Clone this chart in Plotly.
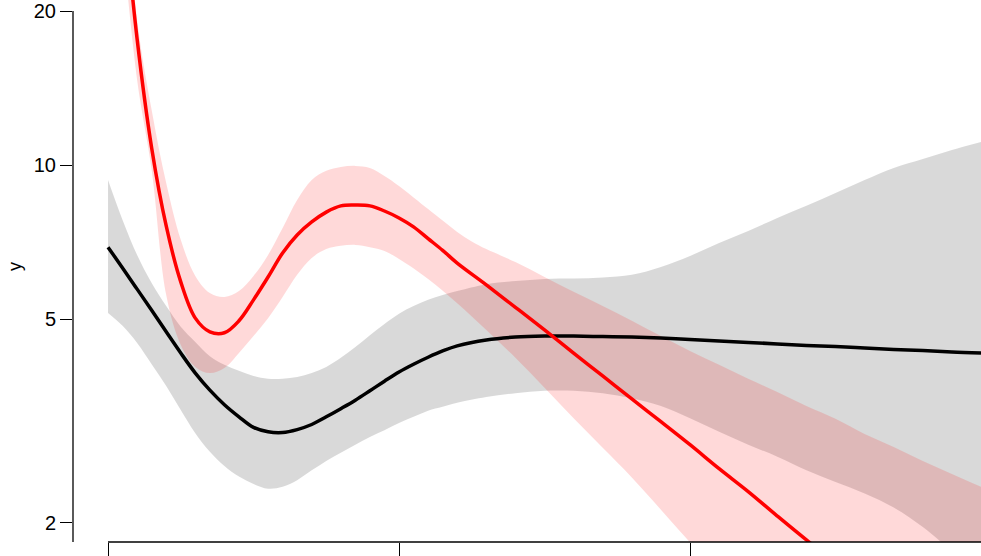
import plotly.graph_objects as go

# ---- data ----
# grey series (black line + grey band)
x_grey = [0.0, 0.05, 0.1, 0.15, 0.2, 0.25, 0.3, 0.35, 0.4, 0.45, 0.5, 0.55, 0.6, 0.65, 0.7, 0.75,
          0.8, 0.85, 0.9, 0.95, 1.0, 1.05, 1.1, 1.15, 1.2, 1.3, 1.4, 1.5, 1.6, 1.7, 1.8, 1.9,
          2.0, 2.1, 2.2, 2.3, 2.4, 2.5, 2.6, 2.7, 2.8, 2.9, 3.0]
black_fit = [6.91, 6.29, 5.72, 5.20, 4.72, 4.29, 3.92, 3.63, 3.40, 3.22, 3.07, 3.01, 3.00, 3.04,
             3.11, 3.22, 3.34, 3.47, 3.62, 3.78, 3.94, 4.08, 4.21, 4.33, 4.43, 4.55, 4.61, 4.63,
             4.63, 4.62, 4.61, 4.59, 4.56, 4.53, 4.50, 4.47, 4.44, 4.42, 4.39, 4.36, 4.34, 4.31,
             4.29]
grey_upper = [9.35, 7.81, 6.67, 5.88, 5.30, 4.83, 4.51, 4.23, 4.07, 3.96, 3.87, 3.82, 3.82, 3.85,
              3.92, 4.03, 4.20, 4.41, 4.65, 4.89, 5.12, 5.30, 5.45, 5.57, 5.67, 5.85, 5.93, 5.99,
              6.00, 6.03, 6.10, 6.32, 6.64, 7.04, 7.43, 7.88, 8.32, 8.82, 9.35, 9.87, 10.27,
              10.70, 11.09]
grey_lower = [5.14, 4.85, 4.49, 4.08, 3.70, 3.32, 2.99, 2.75, 2.58, 2.46, 2.38, 2.33, 2.35, 2.42,
              2.53, 2.64, 2.74, 2.84, 2.94, 3.03, 3.13, 3.22, 3.31, 3.37, 3.43, 3.52, 3.58, 3.62,
              3.62, 3.58, 3.50, 3.38, 3.20, 3.01, 2.84, 2.69, 2.53, 2.40, 2.28, 2.14, 1.96, 1.76,
              1.60]

# red series (red line + pink band)
x_red = [0.05, 0.1, 0.15, 0.2, 0.25, 0.3, 0.35, 0.4, 0.45, 0.5, 0.55, 0.6, 0.65, 0.7, 0.75, 0.8,
         0.85, 0.9, 0.95, 1.0, 1.05, 1.1, 1.15, 1.2, 1.3, 1.4, 1.5, 1.6, 1.7, 1.8, 1.9, 2.0,
         2.1, 2.2, 2.3, 2.4, 2.5]
red_fit = [34.0, 17.63, 10.80, 7.60, 5.91, 5.02, 4.72, 4.70, 4.96, 5.45, 6.04, 6.73, 7.30, 7.74,
           8.09, 8.32, 8.35, 8.32, 8.13, 7.88, 7.57, 7.18, 6.81, 6.43, 5.83, 5.27, 4.76, 4.29,
           3.87, 3.49, 3.15, 2.84, 2.55, 2.30, 2.06, 1.85, 1.67]

x_pink = [0.05, 0.1, 0.15, 0.2, 0.25, 0.3, 0.35, 0.4, 0.45, 0.5, 0.55, 0.6, 0.65, 0.7, 0.75, 0.8,
          0.85, 0.9, 0.95, 1.0, 1.1, 1.15, 1.2, 1.25, 1.3, 1.4, 1.5, 1.6, 1.7, 1.8, 1.9, 2.0,
          2.1, 2.2, 2.3, 2.4, 2.5, 2.6, 2.7, 2.8, 2.9, 3.0]
pink_upper = [42.0, 19.21, 12.81, 9.22, 7.14, 6.07, 5.62, 5.52, 5.67, 6.07, 6.67, 7.53, 8.54, 9.35,
              9.74, 9.91, 9.96, 9.87, 9.52, 9.10, 8.20, 7.79, 7.40, 7.09, 6.85, 6.46, 6.04, 5.65,
              5.30, 4.96, 4.63, 4.33, 4.07, 3.82, 3.60, 3.38, 3.19, 2.98, 2.81, 2.64, 2.49, 2.35]
x_pink_low = [0.05, 0.1, 0.15, 0.2, 0.25, 0.3, 0.35, 0.4, 0.45, 0.5, 0.55, 0.6, 0.65, 0.7, 0.75,
              0.8, 0.85, 0.9, 0.95, 1.0, 1.1, 1.2, 1.3, 1.4, 1.5, 1.6, 1.7, 1.8, 1.9, 2.0, 2.1,
              2.2, 2.5, 3.0]
pink_lower = [27.5, 14.66, 9.78, 5.57, 4.45, 4.03, 3.92, 4.01, 4.29, 4.63, 5.02, 5.52, 6.10, 6.58,
              6.85, 6.95, 6.98, 6.91, 6.79, 6.55, 5.99, 5.37, 4.76, 4.20, 3.67, 3.20, 2.80, 2.45,
              2.12, 1.83, 1.59, 1.37, 0.89, 0.43]

x_ticks = [0, 1, 2, 3]
y_ticks = [2, 5, 10, 20]
y_ticktext = ["2", "5", "10", "20"]

FONT = "Liberation Sans, Arial, sans-serif"
SMOOTH = 1.0
EDGE = dict(width=0, shape="spline", smoothing=SMOOTH)

fig = go.Figure()

# grey band (lower edge, then upper edge filled down to it)
fig.add_trace(go.Scatter(x=x_grey, y=grey_lower, mode="lines", line=EDGE,
                         hoverinfo="skip", showlegend=False))
fig.add_trace(go.Scatter(x=x_grey, y=grey_upper, mode="lines", line=EDGE,
                         fill="tonexty", fillcolor="rgba(0,0,0,0.15)",
                         hoverinfo="skip", showlegend=False))
# pink band
fig.add_trace(go.Scatter(x=x_pink_low, y=pink_lower, mode="lines", line=EDGE,
                         hoverinfo="skip", showlegend=False))
fig.add_trace(go.Scatter(x=x_pink, y=pink_upper, mode="lines", line=EDGE,
                         fill="tonexty", fillcolor="rgba(255,0,0,0.15)",
                         hoverinfo="skip", showlegend=False))
# black line
fig.add_trace(go.Scatter(
    x=x_grey, y=black_fit, mode="lines",
    line=dict(color="black", width=3.5, shape="spline", smoothing=SMOOTH),
    showlegend=False))
# red line
fig.add_trace(go.Scatter(
    x=x_red, y=red_fit, mode="lines",
    line=dict(color="red", width=3.5, shape="spline", smoothing=SMOOTH),
    showlegend=False))

fig.update_layout(
    width=981, height=556,
    margin=dict(l=73, r=0, t=0, b=14),
    paper_bgcolor="white", plot_bgcolor="white",
    font=dict(family=FONT, size=20, color="black"),
    showlegend=False,
    xaxis=dict(range=[-0.1203, 3.0], tickvals=x_ticks, showticklabels=False,
               ticks="outside", ticklen=14, tickcolor="black", tickwidth=1,
               showgrid=False, zeroline=False, showline=False),
    yaxis=dict(type="log", range=[0.26311, 1.32253], tickvals=y_ticks, ticktext=y_ticktext,
               ticks="outside", ticklen=12, tickcolor="black", tickwidth=1,
               showgrid=False, zeroline=False, showline=False,
               tickfont=dict(family=FONT, size=20, color="black")),
    shapes=[
        dict(type="line", xref="x", yref="paper", x0=0, x1=3, y0=0, y1=0,
             line=dict(color="black", width=1.3), layer="above"),
        dict(type="line", xref="paper", yref="paper", x0=0, x1=0, y0=0, y1=0.9797,
             line=dict(color="black", width=1.3), layer="above"),
    ],
    annotations=[
        dict(text="y", xref="paper", yref="paper", x=-0.0639, y=0.509, textangle=-90,
             showarrow=False, font=dict(family=FONT, size=18, color="black"),
             xanchor="center", yanchor="middle"),
    ],
)

fig.write_html("out.html", config={"displayModeBar": False},
               post_script="document.body.style.margin='0';document.body.style.overflow='hidden';")
